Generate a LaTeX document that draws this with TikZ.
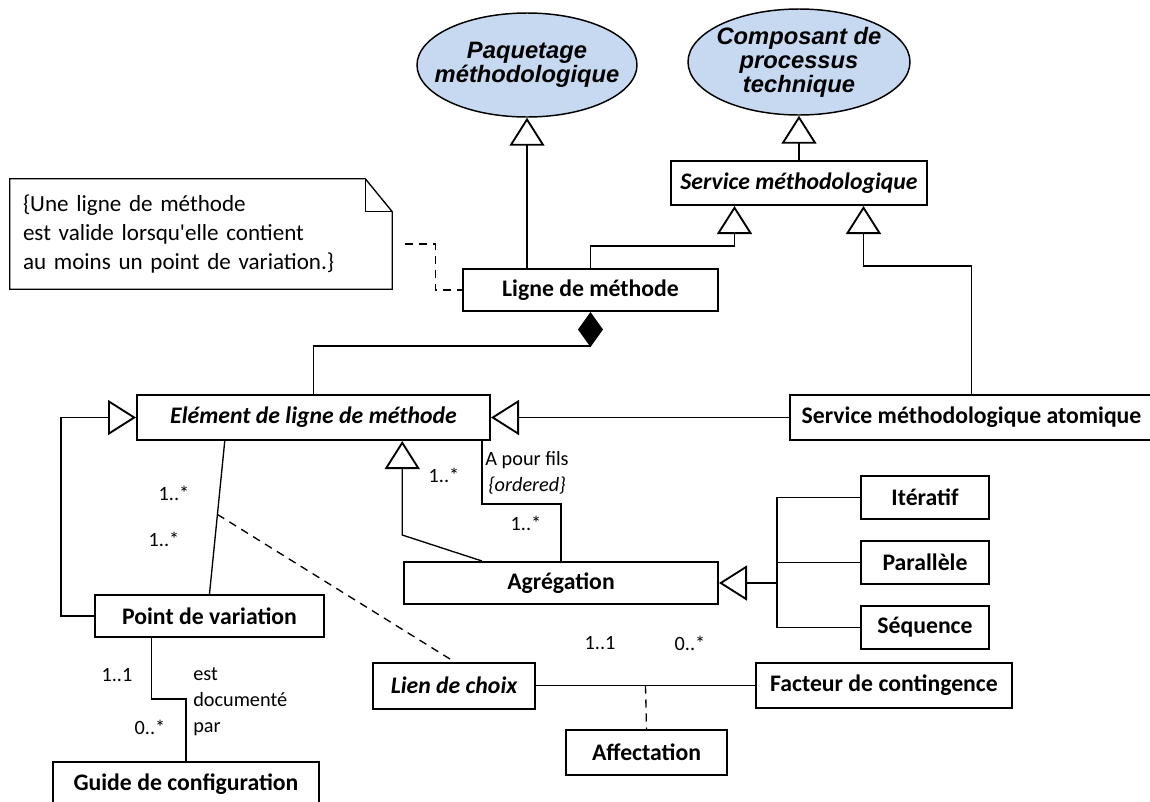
\documentclass[tikz,border=0pt]{standalone}
\usepackage{fontspec}
\setmainfont{Carlito}
\newfontfamily\arialfont{Liberation Sans}
\usetikzlibrary{arrows.meta,shapes.geometric,calc}

\tikzset{
  classe/.style={draw, line width=1.5pt, fill=white, inner sep=0pt, minimum height=33pt,
    font=\fontsize{17.8}{21.4}\selectfont\bfseries},
  abstraite/.style={classe, font=\fontsize{17.8}{21.4}\selectfont\bfseries\itshape},
  paquet/.style={ellipse, draw, line width=1.1pt, fill={rgb, 255:red, 198; green, 217; blue, 240},
    inner xsep=-15pt, inner ysep=0pt, minimum width=165pt, minimum height=78pt, align=center,
    font=\arialfont\fontsize{17.8}{18}\selectfont\bfseries\itshape},
  trait/.style={line width=1pt},
  herite/.style={trait, -{Triangle[fill=white, length=21pt, width=26.25pt, line width=1.4pt]}},
  compose/.style={trait, {Diamond[length=26.25pt, width=18.75pt]}-},
  pointille/.style={trait, dash pattern=on 6pt off 4.5pt},
  mult/.style={inner sep=0pt, font=\fontsize{15.2}{19.5}\selectfont},
}

\begin{document}
\begin{tikzpicture}[x=0.75pt,y=0.75pt,yscale=-1,xscale=1]
\useasboundingbox (0,0) rectangle (1150,801);

%Shape: Ellipse
\node[paquet] (paquetage) at (527,65) {Paquetage\\méthodologique};
%Shape: Ellipse
\node[paquet, minimum width=166.5pt, minimum height=79.5pt] (composant) at (799,62) {Composant de\\processus\\technique};

%Shape: Rectangle
\node[abstraite, minimum width=192pt] (servmeth) at (799,183) {Service méthodologique};
\node[classe, minimum width=191.25pt, minimum height=31.5pt] (ligne) at (590.5,290) {Ligne de méthode};
\node[abstraite, minimum width=264.75pt, minimum height=33.75pt] (element) at (313.5,417.5) {Elément de ligne de méthode};
\node[classe, minimum width=272.25pt, minimum height=33.75pt] (atomique) at (971.5,417.5) {Service méthodologique atomique};
\node[classe, minimum width=235.5pt, minimum height=31.5pt] (agregation) at (561,583) {Agrégation};
\node[classe, minimum width=96pt, minimum height=32.25pt] (iteratif) at (925,497.5) {Itératif};
\node[classe, minimum width=96pt, minimum height=32.25pt] (parallele) at (925,562.5) {Parallèle};
\node[classe, minimum width=96pt, minimum height=32.25pt] (sequence) at (925,627.5) {Séquence};
\node[classe, minimum width=171.75pt, minimum height=31.5pt] (pointvar) at (209.5,616) {Point de variation};
\node[abstraite, minimum width=121.5pt, minimum height=34.5pt] (choix) at (454,685.5) {Lien de choix};
\node[classe, minimum width=192pt, minimum height=33.75pt] (facteur) at (884,685.5) {Facteur de contingence};
\node[classe, minimum width=120.75pt, minimum height=33.75pt] (affectation) at (646.5,752.5) {Affectation};
\node[classe, minimum width=199.5pt] (guide) at (186,784) {Guide de configuration};

%Shape: Note
\node[inner xsep=9.75pt, inner ysep=0pt, minimum height=82.5pt, text width=267pt, align=left,
  font=\fontsize{17.3}{21.4}\selectfont] (note) at (201,234)
  {\{Une ligne de méthode\\est valide lorsqu\textquotesingle elle contient\\au moins un point de variation.\}};
\draw[trait] (note.north west) -- ($(note.north east)+(-27,0)$) -- ($(note.north east)+(0,33)$) -- (note.south east) -- (note.south west) -- cycle;
\draw[trait] ($(note.north east)+(-27,0)$) |- ($(note.north east)+(0,33)$);
\coordinate (notelien) at ($(note.east)+(13,10)$);

%Straight Lines
\draw[herite] (ligne.north -| paquetage.south) -- (paquetage.south);
\draw[herite] (servmeth.north) -- (composant.south);
\draw[herite] (ligne.north) -- ++(0,-22) -| ($(servmeth.south west)!0.25!(servmeth.south east)$);
\draw[herite] (atomique.north) -- ++(0,-128) -| ($(servmeth.south west)!0.75!(servmeth.south east)$);
\draw[pointille] (notelien) -- ++(30,0) |- (ligne.west);
\draw[compose] (ligne.south) -- ++(0,34) -| (element.north);
\draw[herite] (pointvar.west) -- ++(-33,0) |- (element.west);
\draw[herite] (atomique.west) -- (element.east);
\draw[herite] ($(agregation.north west)!0.25!(agregation.north east)$) -- ($(element.south west)!0.75!(element.south east)+(0,94)$) -- ($(element.south west)!0.75!(element.south east)$);
\draw[trait] ($(element.south west)!0.975!(element.south east)$) -- ++(0,63) -| (agregation.north);
\draw[trait] ($(element.south west)!0.25!(element.south east)$) -- (pointvar.north) coordinate[pos=0.48] (assoc);
\draw[pointille] (assoc) -- (choix.north);

%Straight Lines
\draw[trait] (iteratif.west) -- ++(-83,0) coordinate (bus) |- (sequence.west);
\draw[trait] (parallele.west) -- (parallele.west -| bus);
\draw[herite] (agregation.east -| bus) -- (agregation.east);
\draw[trait] (choix.east) -- (facteur.west) coordinate[midway] (classeasso);
\draw[pointille] (classeasso) -- (affectation.north);
\draw[trait] ($(pointvar.south west)!0.25!(pointvar.south east)$) -- ++(0,61) -| (guide.north);

% Text Node
\node[mult] (m1) at (174,493) {1..*};
\node[mult] (m2) at (164,539) {1..*};
\node[mult] (m3) at (444,475) {1..*};
\node[mult] (m4) at (526,523) {1..*};
\node[mult, align=center] (apourfils) at (527,473) {A pour fils\\\textit{\{ordered\}}};
\node[mult] (m5) at (600,643) {1..1};
\node[mult] (m6) at (690,643) {0..*};
\node[mult] (m7) at (117,675) {1..1};
\node[mult] (m8) at (150,727) {0..*};
\node[mult, align=left, anchor=west] (documente) at (193,702) {est\\documenté\\par};

\end{tikzpicture}
\end{document}
